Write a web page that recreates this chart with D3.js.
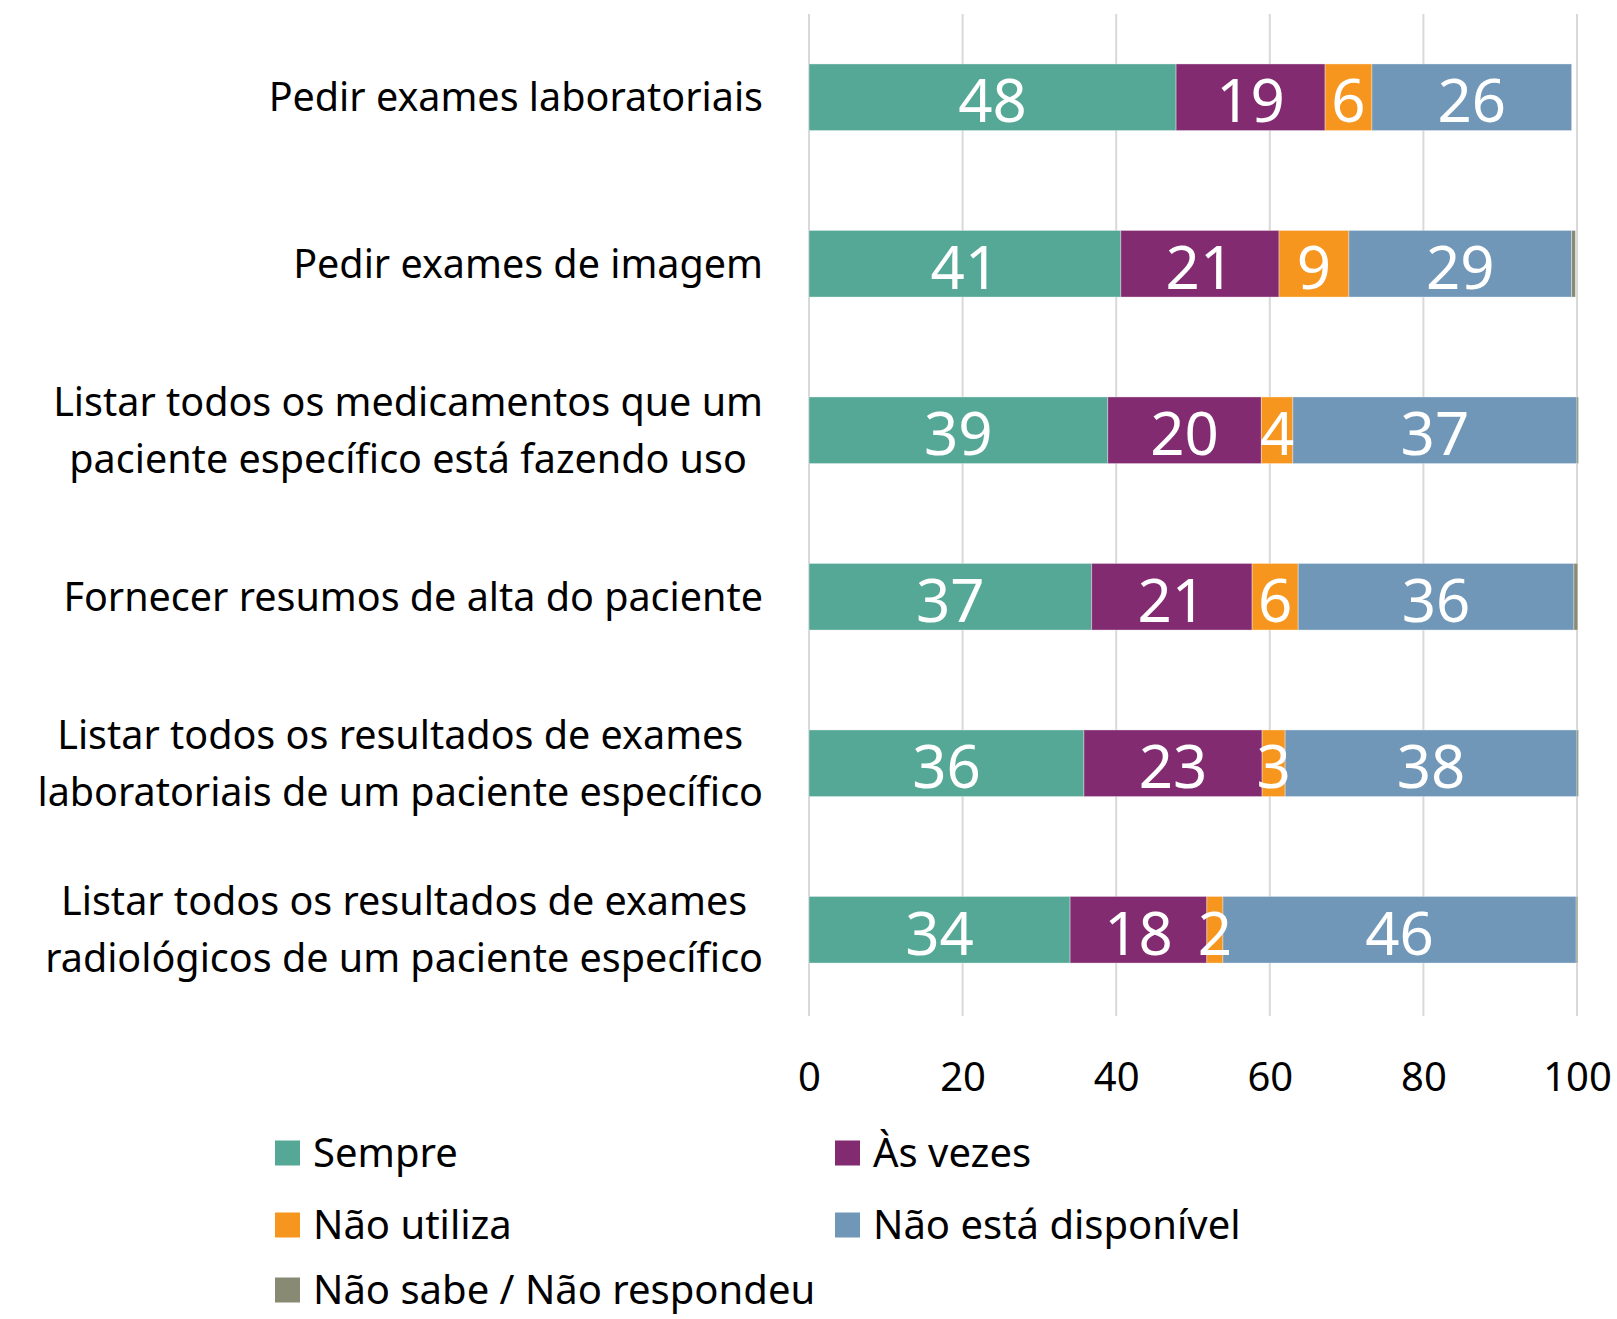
<!DOCTYPE html>
<html>
<head>
<meta charset="utf-8">
<script src="https://cdn.jsdelivr.net/npm/d3@7"></script>
<style>
  body { margin: 0; background: #fff; }
  text { font-family: "Noto Sans", "Open Sans", sans-serif; }
</style>
</head>
<body>
<div id="chart"></div>
<script>
// categorias (linhas quebradas como no original)
const categories = [
  ['Pedir exames laboratoriais'],
  ['Pedir exames de imagem'],
  ['Listar todos os medicamentos que um', 'paciente específico está fazendo uso'],
  ['Fornecer resumos de alta do paciente'],
  ['Listar todos os resultados de exames', 'laboratoriais de um paciente específico'],
  ['Listar todos os resultados de exames', 'radiológicos de um paciente específico']
];

const seriesNames = ['Sempre', 'Às vezes', 'Não utiliza', 'Não está disponível', 'Não sabe / Não respondeu'];
const seriesColors = ['#56a896', '#832b70', '#f7961f', '#7097b8', '#888a74'];

// valores (%)
const sempre        = [47.8, 40.6, 38.9, 36.8, 35.8, 34.0];
const asVezes       = [19.4, 20.6, 20.0, 20.9, 23.2, 17.8];
const naoUtiliza    = [6.1, 9.1, 4.1, 6.0, 3.0, 2.1];
const naoDisponivel = [26.0, 29.0, 37.0, 35.9, 38.0, 46.0];
const naoSabe       = [0, 0.5, 0.2, 0.5, 0.2, 0.2];

const xTicks = [0, 20, 40, 60, 80, 100];

const width = 1617, height = 1319;
const plot = { left: 809, right: 1577, top: 14, bottom: 1013 };

const rows = categories.map((c, i) => ({
  idx: i,
  'Sempre': sempre[i],
  'Às vezes': asVezes[i],
  'Não utiliza': naoUtiliza[i],
  'Não está disponível': naoDisponivel[i],
  'Não sabe / Não respondeu': naoSabe[i]
}));

const svg = d3.select('#chart').append('svg')
  .attr('width', width)
  .attr('height', height);

const x = d3.scaleLinear().domain([0, 100]).range([plot.left, plot.right]);
const y = d3.scaleBand()
  .domain(d3.range(categories.length))
  .range([plot.top, plot.bottom])
  .paddingInner(0.6)
  .paddingOuter(0.3);
const color = d3.scaleOrdinal().domain(seriesNames).range(seriesColors);

// grade vertical
svg.append('g')
  .selectAll('line')
  .data(xTicks)
  .join('line')
  .attr('x1', d => x(d)).attr('x2', d => x(d))
  .attr('y1', plot.top).attr('y2', plot.bottom + 3)
  .attr('stroke', '#d9d9d9')
  .attr('stroke-width', 2);

// eixo x (só rótulos)
const xAxis = svg.append('g')
  .attr('transform', `translate(0,${plot.bottom})`)
  .call(d3.axisBottom(x).tickValues(xTicks).tickSize(0).tickPadding(50));
xAxis.select('.domain').remove();
xAxis.selectAll('text')
  .attr('font-size', 40)
  .attr('fill', '#000')
  .style('font-family', '"Noto Sans", sans-serif');

// barras empilhadas
const stacked = d3.stack().keys(seriesNames)(rows);

const layer = svg.append('g')
  .selectAll('g')
  .data(stacked)
  .join('g')
  .attr('fill', d => color(d.key));

layer.selectAll('rect')
  .data(d => d)
  .join('rect')
  .attr('x', d => x(d[0]))
  .attr('y', d => y(d.data.idx))
  .attr('width', d => Math.max(0, x(d[1]) - x(d[0])))
  .attr('height', y.bandwidth())
  .attr('stroke', '#fff')
  .attr('stroke-opacity', 0.35)
  .attr('stroke-width', 1);

// rótulos de dados (exceto "Não sabe")
const labelLayers = stacked.filter(s => s.key !== 'Não sabe / Não respondeu');
svg.append('g')
  .selectAll('g')
  .data(labelLayers)
  .join('g')
  .selectAll('text')
  .data(d => d)
  .join('text')
  .attr('x', d => (x(d[0]) + x(d[1])) / 2)
  .attr('y', d => y(d.data.idx) + y.bandwidth() / 2 + 25)
  .attr('text-anchor', 'middle')
  .attr('font-size', 60)
  .attr('fill', '#fff')
  .text(d => Math.round(d[1] - d[0]));

// rótulos das categorias
const labelRight = 763;
const lineH = 56.7;
const catG = svg.append('g');
categories.forEach((lines, i) => {
  const cy = y(i) + y.bandwidth() / 2;
  const t = catG.append('text')
    .attr('font-size', 39.5)
    .attr('fill', '#000')
    .attr('text-anchor', 'middle');
  const spans = lines.map((ln, j) => t.append('tspan')
    .attr('y', cy + 14 + (j - (lines.length - 1) / 2) * lineH)
    .text(ln));
  const w = d3.max(spans, s => s.node().getComputedTextLength());
  spans.forEach(s => s.attr('x', labelRight - w / 2));
});

// legenda
const legendPos = [
  [275, 1153], [835, 1153],
  [275, 1225], [835, 1225],
  [275, 1290]
];
const legend = svg.append('g')
  .selectAll('g')
  .data(seriesNames)
  .join('g')
  .attr('transform', (d, i) => `translate(${legendPos[i][0]},${legendPos[i][1]})`);
legend.append('rect')
  .attr('x', 0).attr('y', -12.5)
  .attr('width', 25).attr('height', 25)
  .attr('fill', d => color(d));
legend.append('text')
  .attr('x', 38)
  .attr('y', 14)
  .attr('font-size', 40)
  .attr('fill', '#000')
  .text(d => d);
</script>
</body>
</html>
